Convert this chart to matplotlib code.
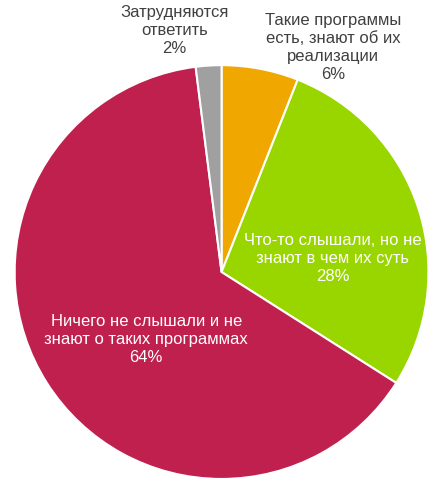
import numpy as np
import matplotlib
matplotlib.use('Agg')
import matplotlib.pyplot as plt

plt.rcParams['font.family'] = ['Liberation Sans', 'DejaVu Sans']

# Данные диаграммы (по часовой стрелке от верхней точки)
labels = [
    'Такие программы\nесть, знают об их\nреализации',
    'Что-то слышали, но не\nзнают в чем их суть',
    'Ничего не слышали и не\nзнают о таких программах',
    'Затрудняются\nответить',
]
shares = [6, 28, 64, 2]
colors = ['#F0A800', '#99D600', '#C0204D', '#A0A0A0']

# Положение подписей (доля радиуса, угол в градусах) и цвет текста
label_pos = [(1.21, 63.6), (0.54, 7.0), (0.49, -138.0), (1.19, 101.0)]
label_colors = ['#404040', 'white', 'white', '#404040']

fig = plt.figure(figsize=(4.44, 4.96), dpi=100)
ax = fig.add_axes([0.033, 0.034, 0.932, 0.835])

ax.pie(shares, colors=colors, startangle=90, counterclock=False,
       wedgeprops=dict(edgecolor='white', linewidth=1.5))

for lab, val, (r, ang), tc in zip(labels, shares, label_pos, label_colors):
    a = np.deg2rad(ang)
    ax.text(r * np.cos(a), r * np.sin(a), f'{lab}\n{val}%',
            ha='center', va='center', fontsize=12, color=tc,
            linespacing=1.25, clip_on=False)

ax.set_xlim(-1, 1)
ax.set_ylim(-1, 1)
ax.set_aspect('equal')
ax.axis('off')

plt.savefig('out.png', dpi=100)
plt.close()
